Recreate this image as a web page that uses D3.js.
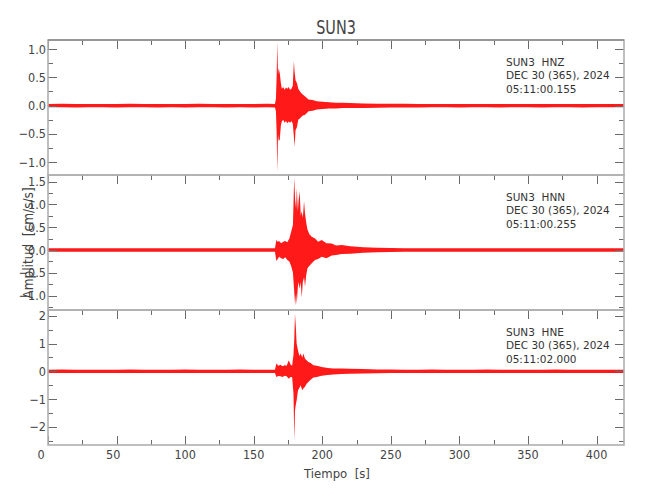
<!DOCTYPE html>
<html>
<head>
<meta charset="utf-8">
<script src="https://cdn.jsdelivr.net/npm/d3@7"></script>
<style>
  html, body { margin: 0; padding: 0; background: #fff; }
  svg { display: block; }
  text { font-family: "Liberation Sans Narrow", "DejaVu Sans Condensed", "Liberation Sans", sans-serif; fill: #444; }
  .anno { font-family: "DejaVu Sans", sans-serif; font-size: 10.5px; fill: #333; white-space: pre; }
</style>
</head>
<body>
<svg id="chart" width="650" height="500"></svg>
<script>
// ---------------- DATA ----------------
const title = "SUN3";
const xLabel = "Tiempo  [s]";
const yLabel = "Amplitud  [cm/s/s]";
const xTicks = [0, 50, 100, 150, 200, 250, 300, 350, 400];
const xDomain = [0, 420];

const channels = ["HNZ", "HNN", "HNE"];
const station = "SUN3";
const dateText = "DEC 30 (365), 2024";
const startTimes = ["05:11:00.155", "05:11:00.255", "05:11:02.000"];

const yDomains = [[-1.224, 1.159], [-1.316, 1.645], [-2.65, 2.207]];
const yMajorTicks = [
  [-1.0, -0.5, 0.0, 0.5, 1.0],
  [-1.0, -0.5, 0.0, 0.5, 1.0, 1.5],
  [-2, -1, 0, 1, 2]
];
const yMinorStep = [0.25, 0.25, 0.5];

// envelopes: [time s, max, min]
const hnzEnvelope = [
  [0, 0.030, -0.030], [10, 0.032, -0.029], [20, 0.030, -0.031], [30, 0.028, -0.030],
  [40, 0.031, -0.029], [50, 0.030, -0.032], [60, 0.033, -0.030], [70, 0.030, -0.029],
  [80, 0.029, -0.031], [90, 0.031, -0.030], [100, 0.030, -0.031], [110, 0.032, -0.030],
  [120, 0.030, -0.029], [130, 0.031, -0.031], [140, 0.029, -0.030], [150, 0.030, -0.031],
  [160, 0.032, -0.030], [165.5, 0.030, -0.032],
  [166.2, 0.12, -0.10], [166.7, 0.50, -0.45], [167.2, 1.12, -1.17], [167.7, 0.55, -0.50],
  [168.2, 0.66, -0.62], [169.0, 0.57, -0.60], [169.8, 0.40, -0.35], [170.5, 0.30, -0.28],
  [171.5, 0.33, -0.25], [172.5, 0.28, -0.30], [173.5, 0.32, -0.27], [174.5, 0.30, -0.31],
  [175.5, 0.33, -0.28], [176.5, 0.28, -0.30], [177.5, 0.30, -0.27], [178.5, 0.35, -0.32],
  [179.3, 0.79, -0.55], [179.8, 0.60, -0.73], [180.5, 0.45, -0.43], [181.5, 0.40, -0.38],
  [182.5, 0.30, -0.25], [184.0, 0.24, -0.22], [185.5, 0.20, -0.18], [187.5, 0.16, -0.16],
  [190, 0.11, -0.10], [193, 0.10, -0.09], [196, 0.08, -0.07], [200, 0.07, -0.06],
  [205, 0.06, -0.05], [210, 0.05, -0.05], [215, 0.05, -0.04], [220, 0.045, -0.04],
  [230, 0.040, -0.040], [240, 0.035, -0.036], [250, 0.034, -0.033], [260, 0.032, -0.031],
  [270, 0.030, -0.031], [280, 0.031, -0.030], [290, 0.030, -0.029], [300, 0.030, -0.031],
  [310, 0.031, -0.030], [320, 0.030, -0.030], [330, 0.029, -0.031], [340, 0.030, -0.029],
  [350, 0.031, -0.030], [360, 0.030, -0.031], [370, 0.030, -0.030], [380, 0.029, -0.030],
  [390, 0.030, -0.031], [400, 0.031, -0.029], [410, 0.030, -0.030], [420, 0.030, -0.030]
];

const hnnEnvelope = [
  [0, 0.037, -0.036], [10, 0.036, -0.038], [20, 0.038, -0.036], [30, 0.036, -0.037],
  [40, 0.037, -0.036], [50, 0.039, -0.037], [60, 0.036, -0.038], [70, 0.037, -0.036],
  [80, 0.036, -0.037], [90, 0.038, -0.036], [100, 0.037, -0.038], [110, 0.036, -0.037],
  [120, 0.038, -0.036], [130, 0.037, -0.037], [140, 0.036, -0.038], [150, 0.037, -0.036],
  [160, 0.038, -0.037], [165.5, 0.040, -0.040],
  [166.5, 0.22, -0.24], [167.5, 0.18, -0.20], [168.5, 0.20, -0.15], [170.0, 0.15, -0.18],
  [171.5, 0.18, -0.20], [173.0, 0.20, -0.16], [174.5, 0.17, -0.22], [176.0, 0.25, -0.25],
  [177.3, 0.40, -0.35], [178.6, 0.55, -0.50], [179.5, 1.58, -0.90], [180.2, 1.10, -1.21],
  [180.9, 0.90, -0.95], [181.4, 1.36, -1.18], [182.2, 0.85, -0.80], [182.7, 1.07, -0.70],
  [183.5, 1.29, -0.85], [184.3, 0.75, -0.70], [185.0, 0.85, -1.05], [185.8, 0.70, -0.70],
  [186.7, 1.07, -0.60], [187.4, 0.80, -0.80], [188.3, 0.60, -0.55], [189.2, 0.45, -0.40],
  [190.5, 0.35, -0.35], [192.3, 0.29, -0.29], [194.7, 0.25, -0.22], [197.0, 0.18, -0.20],
  [199.6, 0.22, -0.15], [203.0, 0.15, -0.18], [206.9, 0.14, -0.12], [210.0, 0.10, -0.11],
  [214.2, 0.11, -0.09], [220.3, 0.08, -0.08], [230, 0.06, -0.06], [240, 0.05, -0.05],
  [250, 0.045, -0.044], [260, 0.040, -0.041], [270, 0.038, -0.037], [280, 0.037, -0.038],
  [290, 0.036, -0.037], [300, 0.038, -0.036], [310, 0.037, -0.037], [320, 0.036, -0.038],
  [330, 0.037, -0.036], [340, 0.038, -0.037], [350, 0.036, -0.036], [360, 0.037, -0.038],
  [370, 0.036, -0.037], [380, 0.038, -0.036], [390, 0.037, -0.037], [400, 0.036, -0.038],
  [410, 0.037, -0.036], [420, 0.037, -0.037]
];

const hneEnvelope = [
  [0, 0.060, -0.060], [10, 0.062, -0.058], [20, 0.059, -0.061], [30, 0.061, -0.060],
  [40, 0.060, -0.062], [50, 0.058, -0.059], [60, 0.062, -0.061], [70, 0.060, -0.060],
  [80, 0.061, -0.062], [90, 0.059, -0.060], [100, 0.062, -0.059], [110, 0.060, -0.061],
  [120, 0.061, -0.060], [130, 0.059, -0.062], [140, 0.062, -0.060], [150, 0.060, -0.059],
  [160, 0.061, -0.061], [165.5, 0.060, -0.060],
  [166.5, 0.28, -0.20], [168.0, 0.20, -0.17], [169.5, 0.24, -0.18], [171.0, 0.18, -0.20],
  [172.5, 0.22, -0.16], [174.0, 0.20, -0.18], [175.6, 0.40, -0.27], [176.8, 0.25, -0.20],
  [178.0, 0.20, -0.20], [179.0, 0.60, -0.80], [179.6, 1.20, -2.48], [180.1, 2.07, -1.40],
  [180.7, 1.60, -1.20], [181.3, 1.00, -1.04], [182.3, 0.75, -0.68], [183.3, 0.55, -0.60],
  [184.2, 0.64, -0.50], [185.4, 0.50, -0.68], [186.2, 0.64, -0.62], [187.4, 0.45, -0.55],
  [188.6, 0.40, -0.45], [189.8, 0.34, -0.38], [191.5, 0.30, -0.30], [193.5, 0.22, -0.22],
  [196.0, 0.20, -0.20], [199.6, 0.16, -0.16], [204, 0.12, -0.13], [208, 0.10, -0.11],
  [214, 0.10, -0.10], [220, 0.09, -0.09], [230, 0.08, -0.08], [240, 0.07, -0.07],
  [250, 0.065, -0.064], [260, 0.061, -0.060], [270, 0.060, -0.061], [280, 0.062, -0.059],
  [290, 0.059, -0.060], [300, 0.061, -0.062], [310, 0.060, -0.060], [320, 0.062, -0.061],
  [330, 0.059, -0.060], [340, 0.060, -0.062], [350, 0.061, -0.059], [360, 0.060, -0.061],
  [370, 0.062, -0.060], [380, 0.059, -0.060], [390, 0.061, -0.062], [400, 0.060, -0.059],
  [410, 0.061, -0.061], [420, 0.060, -0.060]
];
const envelopes = [hnzEnvelope, hnnEnvelope, hneEnvelope];

// ---------------- LAYOUT ----------------
const svg = d3.select("#chart");
const left = 48, right = 624;
const panelTops = [40, 175, 310];
const panelH = 135;
const borderColor = "#b0b0b0";
const tickColor = "#6a6a6a";

const x = d3.scaleLinear().domain(xDomain).range([left, right]);
const xMinor = d3.range(0, 421, 25);

svg.append("text").attr("transform", "translate(336,34) scale(0.8,1)").attr("text-anchor", "middle")
  .style("font-size", "20px").style("font-weight", "300").attr("fill", "#555").text(title);

panelTops.forEach((top, i) => {
  const bottom = top + panelH;
  const y = d3.scaleLinear().domain(yDomains[i]).range([bottom, top]);
  const g = svg.append("g");

  const clipId = "clip" + i;
  svg.append("clipPath").attr("id", clipId).append("rect")
    .attr("x", left).attr("y", top).attr("width", right - left).attr("height", panelH);

  // waveform envelope
  const area = d3.area()
    .x(d => x(d[0]))
    .y0(d => y(d[2]))
    .y1(d => y(d[1]))
    .curve(d3.curveLinear);
  g.append("path").datum(envelopes[i])
    .attr("clip-path", `url(#${clipId})`)
    .attr("d", area)
    .attr("fill", "#ff0000")
    .attr("fill-opacity", 0.9)
    .attr("stroke", "none");

  // y ticks (left and right)
  const [y0, y1] = yDomains[i];
  const minors = d3.range(Math.ceil(y0 / yMinorStep[i]) * yMinorStep[i], y1 + 1e-9, yMinorStep[i])
    .filter(v => !yMajorTicks[i].some(m => Math.abs(m - v) < 1e-6));
  const tickG = g.append("g").attr("stroke", tickColor).attr("stroke-width", 1);
  yMajorTicks[i].forEach(v => {
    const yy = Math.round(y(v)) + 0.5;
    tickG.append("line").attr("x1", left).attr("x2", left + 9).attr("y1", yy).attr("y2", yy);
    tickG.append("line").attr("x1", right - 9).attr("x2", right).attr("y1", yy).attr("y2", yy);
  });
  minors.forEach(v => {
    const yy = Math.round(y(v)) + 0.5;
    tickG.append("line").attr("x1", left).attr("x2", left + 5).attr("y1", yy).attr("y2", yy);
    tickG.append("line").attr("x1", right - 5).attr("x2", right).attr("y1", yy).attr("y2", yy);
  });
  const fmt = i === 2 ? d3.format("d") : d3.format(".1f");
  g.selectAll(".ylab").data(yMajorTicks[i]).enter().append("text")
    .attr("x", 46).attr("y", d => y(d) + 4.5)
    .attr("text-anchor", "end").style("font-size", "12.5px")
    .text(d => fmt(d));

  // x ticks on top of every panel
  xMinor.forEach(t => {
    const xx = Math.round(x(t)) + 0.5;
    const len = t % 50 === 0 ? 9 : 5;
    tickG.append("line").attr("x1", xx).attr("x2", xx).attr("y1", top).attr("y2", top + len);
    if (i === 2) {
      tickG.append("line").attr("x1", xx).attr("x2", xx).attr("y1", bottom - len).attr("y2", bottom);
    }
  });

  // border
  g.append("rect").attr("x", left).attr("y", top).attr("width", right - left).attr("height", panelH)
    .attr("fill", "none").attr("stroke", borderColor).attr("stroke-width", 1.6);
  if (i === 0) {
    g.append("line").attr("x1", left).attr("x2", right).attr("y1", top).attr("y2", top)
      .attr("stroke", "#8a8a8a").attr("stroke-width", 1.6);
  }

  // annotation
  const ann = g.append("text").attr("class", "anno").attr("xml:space", "preserve");
  [station + "  " + channels[i], dateText, startTimes[i]].forEach((s, k) => {
    ann.append("tspan").attr("x", 506).attr("y", top + 25.7 + k * 13.6).text(s);
  });
});

// x tick labels on bottom panel
const xBottom = panelTops[2] + panelH;
svg.selectAll(".xlab").data(xTicks).enter().append("text")
  .attr("x", d => x(d) - (3 - String(d).length) * 3.4)
  .attr("y", xBottom + 14)
  .attr("text-anchor", "middle").style("font-size", "12.5px")
  .text(d => d);

svg.append("text").attr("x", 337).attr("y", 478).attr("text-anchor", "middle")
  .style("font-size", "13px").attr("xml:space", "preserve").style("white-space", "pre").text(xLabel);

svg.append("text").attr("transform", "translate(33,243) rotate(-90)")
  .attr("text-anchor", "middle").style("font-size", "13.5px")
  .attr("xml:space", "preserve").style("white-space", "pre").text(yLabel);
</script>
</body>
</html>
